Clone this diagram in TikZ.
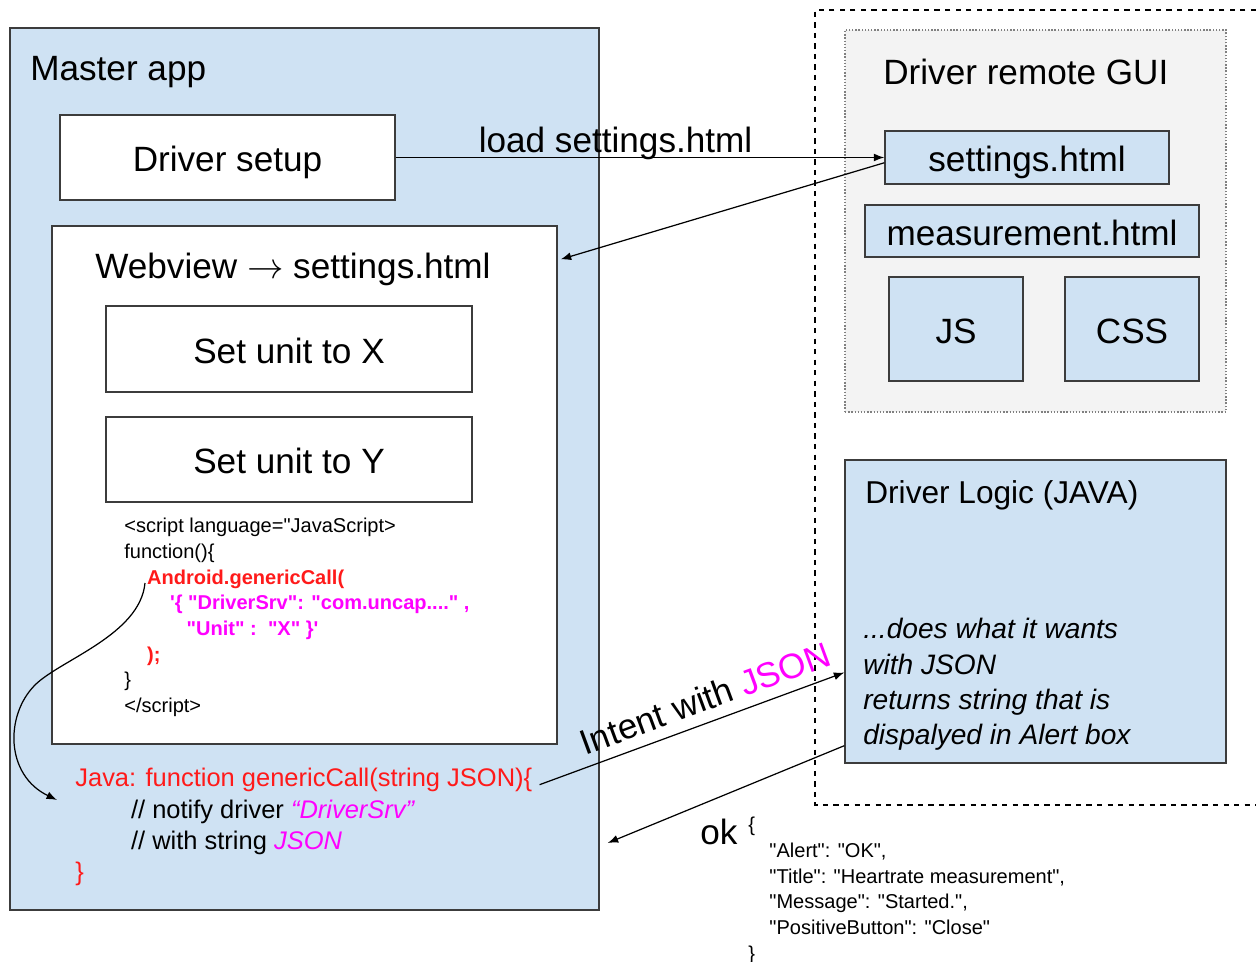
\documentclass[tikz,border=0pt]{standalone}
\usepackage{fontspec}
\setmainfont{Liberation Sans}
\usetikzlibrary{calc,arrows.meta}
\definecolor{boxblue}{HTML}{CFE2F3}
\definecolor{guigray}{HTML}{F3F3F3}
\definecolor{edgegray}{HTML}{3C3C3C}
\definecolor{codered}{HTML}{FF1A1A}
\definecolor{codepink}{HTML}{FF00FF}
\newcommand{\fbig}{\fontsize{20}{24}\selectfont}
\newcommand{\fcode}{\fontsize{11.4}{14.6}\selectfont}
\newcommand{\dq}{\textquotedbl}
\begin{document}
\begin{tikzpicture}[x=0.02cm, y=-0.02cm,
    box/.style={draw=edgegray, line width=0.8pt, inner sep=0pt, font=\fbig, text height=18pt, text depth=2pt},
    bluebox/.style={box, fill=boxblue},
    whitebox/.style={box, fill=white},
    txt/.style={inner sep=0pt, align=left},
    conn/.style={line width=0.7pt, -{Latex[length=6pt,width=4.5pt]}}]
  \useasboundingbox (0,0) rectangle (1256,962);
  % master app side
  \node[bluebox, minimum width=11.78cm, minimum height=17.64cm] (master) at (304.5,469) {};
  \node[txt, anchor=base west, font=\fbig] (mastertitle) at (30,81) {Master app};
  \node[whitebox, minimum width=6.7cm, minimum height=1.7cm] (drvsetup) at (227.5,157.5) {Driver setup};
  \node[whitebox, minimum width=10.1cm, minimum height=10.36cm] (webview) at (304.5,485) {};
  \node[txt, anchor=base west, font=\fbig] (webtitle) at (95,279) {Webview $\rightarrow$ settings.html};
  \node[whitebox, minimum width=7.32cm, minimum height=1.72cm] (unitx) at (289,349) {Set unit to X};
  \node[whitebox, minimum width=7.32cm, minimum height=1.7cm] (unity) at (289,459.5) {Set unit to Y};
  \node[txt, anchor=north west, font=\fcode] (script) at (124,518) {%
    <script language=\dq JavaScript>\\
    function()\{\\
    \hspace*{13pt}\textcolor{codered}{\bfseries Android.genericCall(}\\
    \hspace*{26pt}\textcolor{codepink}{\bfseries \textquotesingle\{ \dq DriverSrv\dq: \dq com.uncap....\dq\ ,}\\
    \hspace*{35.5pt}\textcolor{codepink}{\bfseries \dq Unit\dq\ :\ \ \dq X\dq\ \}\textquotesingle}\\
    \hspace*{13pt}\textcolor{codered}{\bfseries );}\\
    \}\\
    </script>};
  \coordinate (andr) at (145,583);
  \node[txt, anchor=base west, font=\fontsize{14.5}{17.6}\selectfont, text=codered] (javahead) at (75,786)
    {Java: function genericCall(string JSON)\{};
  \node[txt, anchor=north west, font=\fontsize{14.5}{17.6}\selectfont] (javabody) at (75,800) {%
    \hspace*{31.7pt}// notify driver \textcolor{codepink}{\itshape “DriverSrv”}\\
    \hspace*{31.7pt}// with string \textcolor{codepink}{\itshape JSON}\\
    \textcolor{codered}{\}}};
  \coordinate (callin) at (57,800);
  % driver side
  \draw[dashed, line width=0.7pt] (1256,10) -- (815,10) -- (815,805) -- (1256,805);
  \node[box, fill=guigray, draw=gray, densely dotted, minimum width=7.62cm, minimum height=7.64cm] (gui) at (1035.5,221) {};
  \node[txt, anchor=base west, font=\fbig] (guititle) at (883,85) {Driver remote GUI};
  \node[bluebox, minimum width=5.68cm, minimum height=1.06cm] (settings) at (1027,157.5) {settings.html};
  \node[bluebox, minimum width=6.68cm, minimum height=1.04cm] (measure) at (1032,231) {measurement.html};
  \node[bluebox, minimum width=2.68cm, minimum height=2.08cm] (js) at (956,329) {JS};
  \node[bluebox, minimum width=2.68cm, minimum height=2.08cm] (css) at (1132,329) {CSS};
  \node[bluebox, minimum width=7.62cm, minimum height=6.06cm] (logic) at (1035.5,611.5) {};
  \node[txt, anchor=base west, font=\fontsize{18}{22}\selectfont] (logictitle) at (865,503) {Driver Logic (JAVA)};
  \node[txt, anchor=north west, font=\fontsize{16}{20.1}\selectfont\itshape] (logicnote) at (863,618) {%
    ...does what it wants\\
    with JSON\\
    returns string that is\\
    dispalyed in Alert box};
  \node[txt, anchor=base west, font=\fbig] (ok) at (700,844) {ok};
  \node[txt, anchor=north west, font=\fcode] (reply) at (748,817) {%
    \{\\
    \hspace*{12pt}\dq Alert\dq: \dq OK\dq,\\
    \hspace*{12pt}\dq Title\dq: \dq Heartrate measurement\dq,\\
    \hspace*{12pt}\dq Message\dq: \dq Started.\dq,\\
    \hspace*{12pt}\dq PositiveButton\dq: \dq Close\dq\\
    \}};
  % connectors
  \draw[conn] (drvsetup.east) -- node[pos=0.45, above, inner sep=0pt, yshift=-1.5pt, font=\fbig] (loadlbl) {load settings.html} (settings.west);
  \draw[conn] ([yshift=-3pt]settings.west) -- ($(webview.north east)+(3,34)$);
  \draw[conn] ([xshift=4pt,yshift=-3pt]javahead.east) -- node[pos=0.57, sloped, above, inner sep=6pt, font=\fbig] (intentlbl) {Intent with \textcolor{codepink}{JSON}} ($(logic.west)+(0,61)$);
  \draw[conn] ($(logic.south west)+(0,-18)$) -- ($(master.east)+(8,374)$);
  \draw[conn] (andr) .. controls (140,635) and (60,660) .. (35,685) .. controls (5,715) and (5,775) .. (callin);
\end{tikzpicture}
\end{document}
